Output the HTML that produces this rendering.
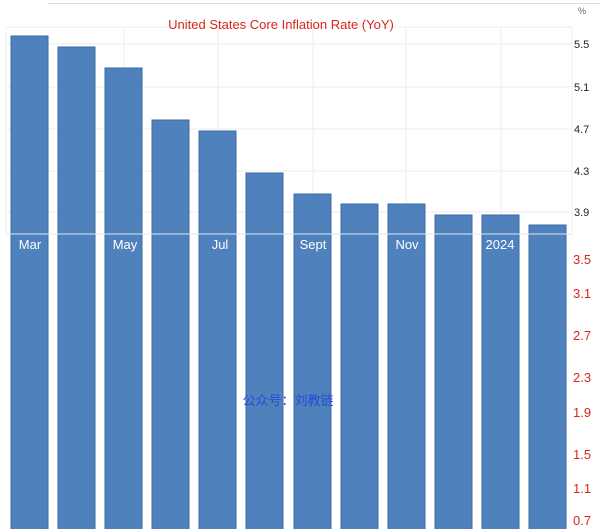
<!DOCTYPE html>
<html><head><meta charset="utf-8"><style>
html,body{margin:0;padding:0;width:600px;height:529px;overflow:hidden;background:#fff;font-family:"Liberation Sans","Noto Sans CJK SC",sans-serif;}
svg{display:block;overflow:hidden;}
</style></head><body>
<svg width="600" height="529" viewBox="0 0 600 529" xmlns="http://www.w3.org/2000/svg" font-family="Liberation Sans, Noto Sans CJK SC, sans-serif">
<line x1="48" y1="3.5" x2="600" y2="3.5" stroke="#ddd"/>
<g stroke="#ececec" stroke-width="1">
<line x1="6" y1="27" x2="572" y2="27"/>
<line x1="6" y1="44" x2="572" y2="44"/>
<line x1="6" y1="87" x2="572" y2="87"/>
<line x1="6" y1="129" x2="572" y2="129"/>
<line x1="6" y1="171" x2="572" y2="171"/>
<line x1="6" y1="212" x2="572" y2="212"/>
<line x1="124" y1="27" x2="124" y2="234"/>
<line x1="218" y1="27" x2="218" y2="234"/>
<line x1="313" y1="27" x2="313" y2="234"/>
<line x1="406" y1="27" x2="406" y2="234"/>
<line x1="501" y1="27" x2="501" y2="234"/>
<line x1="6" y1="27" x2="6" y2="234"/>
<line x1="572" y1="27" x2="572" y2="234"/>
</g>
<g fill="#4f81bd" stroke="#3d6ba6" stroke-width="1">
<rect x="11" y="36" width="37" height="494"/>
<rect x="58" y="47" width="37" height="483"/>
<rect x="105" y="68" width="37" height="462"/>
<rect x="152" y="120" width="37" height="410"/>
<rect x="199" y="131" width="37" height="399"/>
<rect x="246" y="173" width="37" height="357"/>
<rect x="294" y="194" width="37" height="336"/>
<rect x="341" y="204" width="37" height="326"/>
<rect x="388" y="204" width="37" height="326"/>
<rect x="435" y="215" width="37" height="315"/>
<rect x="482" y="215" width="37" height="315"/>
<rect x="529" y="225" width="37" height="305"/>
</g>
<line x1="6" y1="234" x2="572" y2="234" stroke="#dfe6ef" stroke-width="1"/>
<g fill="#fff" font-size="13" text-anchor="middle">
<text x="30" y="249">Mar</text>
<text x="125" y="249">May</text>
<text x="220" y="249">Jul</text>
<text x="313" y="249">Sept</text>
<text x="407" y="249">Nov</text>
<text x="500" y="249">2024</text>
</g>
<text x="281" y="29" fill="#d9261c" font-size="13" text-anchor="middle">United States Core Inflation Rate (YoY)</text>
<text x="578" y="14" fill="#666" font-size="9">%</text>
<g fill="#222" font-size="11">
<text x="574" y="48">5.5</text>
<text x="574" y="91">5.1</text>
<text x="574" y="133">4.7</text>
<text x="574" y="175">4.3</text>
<text x="574" y="216">3.9</text>
</g>
<g fill="#d9261c" font-size="13">
<text x="573" y="264">3.5</text>
<text x="573" y="298">3.1</text>
<text x="573" y="340">2.7</text>
<text x="573" y="382">2.3</text>
<text x="573" y="417">1.9</text>
<text x="573" y="459">1.5</text>
<text x="573" y="493">1.1</text>
<text x="573" y="525">0.7</text>
</g>
<text x="288" y="405" fill="#1f4fd6" font-size="13" text-anchor="middle">公众号：刘教链</text>
</svg>
</body></html>
